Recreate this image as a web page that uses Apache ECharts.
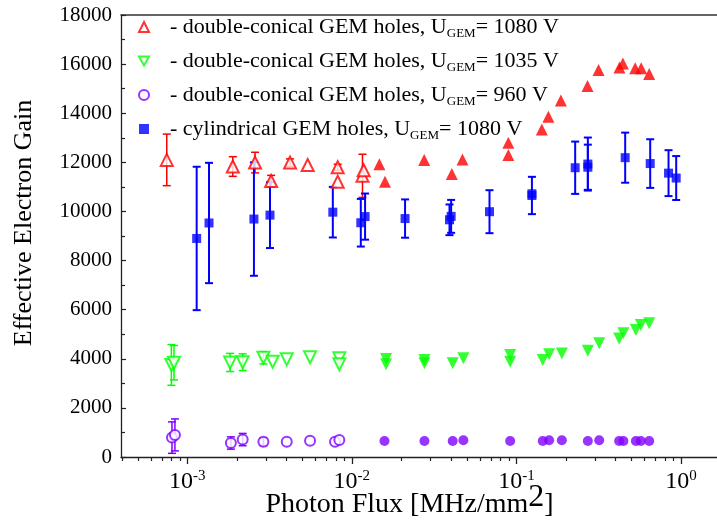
<!DOCTYPE html>
<html>
<head>
<meta charset="utf-8">
<script src="https://cdn.jsdelivr.net/npm/echarts@6/dist/echarts.min.js"></script>
<style>html,body{margin:0;padding:0;background:#fff}#c{width:717px;height:524px}</style>
</head>
<body>
<div id="c"></div>
<script>
// ---- data ----
const X_MIN = 3.954e-4, X_MAX = 1.726;
const majorTickValues = [0.001, 0.01, 0.1, 1];
const yTickInterval = 2000;

const names = [
  'double-conical GEM holes, U_GEM= 1080 V',
  'double-conical GEM holes, U_GEM= 1035 V',
  'double-conical GEM holes, U_GEM= 960 V',
  'cylindrical GEM holes, U_GEM= 1080 V'
];

const redX = [7.5e-4, 1.89e-3, 2.58e-3, 3.23e-3, 4.21e-3, 5.39e-3, 8.2e-3, 8.2e-3, 0.0116, 0.0118, 0.0147, 0.0159, 0.0275, 0.0405, 0.047, 0.0893, 0.0893, 0.1426, 0.1564, 0.1862, 0.2704, 0.3155, 0.4227, 0.4436, 0.527, 0.573, 0.641];
const redY = [12100, 11830, 11990, 11240, 11990, 11890, 11800, 11210, 11450, 11680, 11920, 11210, 12100, 11520, 12120, 12800, 12300, 13340, 13860, 14520, 15110, 15760, 15860, 16020, 15830, 15830, 15600];
const redErr = [1050, 400, 420, 230, 150, 0, 120, 0, 880, 0, 0, 0, 0, 0, 0, 0, 0, 0, 0, 0, 0, 0, 0, 0, 0, 0, 0];

const greenX = [8.0e-4, 8.3e-4, 1.82e-3, 2.17e-3, 2.90e-3, 3.30e-3, 4.02e-3, 5.57e-3, 8.39e-3, 8.39e-3, 0.01614, 0.01614, 0.0276, 0.0276, 0.0410, 0.0476, 0.0916, 0.0916, 0.1445, 0.158, 0.1888, 0.2716, 0.3184, 0.4207, 0.4467, 0.532, 0.570, 0.641];
const greenY = [3750, 3840, 3850, 3860, 4040, 3880, 3980, 4060, 4020, 3780, 3990, 3780, 3950, 3820, 3820, 4020, 4150, 3880, 3950, 4180, 4220, 4330, 4630, 4830, 5040, 5170, 5380, 5450];
const greenErr = [830, 700, 370, 340, 250, 0, 0, 0, 0, 0, 0, 0, 0, 0, 0, 0, 0, 0, 0, 0, 0, 0, 0, 0, 0, 0, 0, 0];

const purpleX = [8.07e-4, 8.41e-4, 1.84e-3, 2.17e-3, 2.90e-3, 4.02e-3, 5.57e-3, 7.9e-3, 8.39e-3, 0.01578, 0.0276, 0.0410, 0.0476, 0.0916, 0.1445, 0.158, 0.1888, 0.2716, 0.3184, 0.4207, 0.4467, 0.532, 0.570, 0.641];
const purpleY = [790, 900, 570, 710, 620, 620, 660, 620, 690, 650, 650, 650, 680, 650, 650, 680, 680, 650, 680, 650, 650, 650, 650, 650];
const purpleErr = [640, 650, 250, 250, 150, 0, 0, 0, 0, 0, 0, 0, 0, 0, 0, 0, 0, 0, 0, 0, 0, 0, 0, 0];

const blueX = [1.14e-3, 1.355e-3, 2.54e-3, 3.18e-3, 7.66e-3, 0.01133, 0.01203, 0.02105, 0.0392, 0.0401, 0.0686, 0.1242, 0.1242, 0.2275, 0.2716, 0.2716, 0.458, 0.650, 0.840, 0.935];
const blueY = [8900, 9530, 9690, 9850, 9970, 9540, 9790, 9710, 9660, 9800, 9990, 10720, 10650, 11780, 11930, 11800, 12190, 11950, 11560, 11360];
const blueErr = [2920, 2450, 2310, 1340, 1030, 970, 940, 780, 625, 670, 875, 0, 760, 1065, 1080, 920, 1020, 990, 935, 895];

// ---- helpers ----
const FONT = 'Liberation Serif';
const minorTickValues = [];
for (let e = -4; e <= 0; e++) for (let m = 2; m <= 9; m++) {
  const v = m * Math.pow(10, e);
  if (v > X_MIN && v < X_MAX) minorTickValues.push(v);
}
const pairs = (xs, ys) => xs.map((x, i) => [x, ys[i]]);
const triples = (xs, ys, es) => xs.map((x, i) => [x, ys[i], es[i]]);

function errRender(color, lw) {
  return function (params, api) {
    const x = api.value(0), y = api.value(1), e = api.value(2);
    if (!e) return null;
    const t = api.coord([x, y + e]), b = api.coord([x, y - e]);
    const hw = 4;
    const st = { stroke: color, lineWidth: lw };
    return { type: 'group', children: [
      { type: 'line', shape: { x1: t[0], y1: t[1], x2: b[0], y2: b[1] }, style: st },
      { type: 'line', shape: { x1: t[0] - hw, y1: t[1], x2: t[0] + hw, y2: t[1] }, style: st },
      { type: 'line', shape: { x1: b[0] - hw, y1: b[1], x2: b[0] + hw, y2: b[1] }, style: st }
    ]};
  };
}
function errSeries(xs, ys, es, color, lw) {
  return { type: 'custom', renderItem: errRender(color, lw), data: triples(xs, ys, es),
    encode: { x: 0, y: 1 }, z: 1, silent: true, clip: false };
}
const FILL_FROM = 0.012;
function markerData(xs, ys, filledSymbol) {
  return xs.map((x, i) => x >= FILL_FROM && filledSymbol ? { value: [x, ys[i]], symbol: filledSymbol } : [x, ys[i]]);
}

function legendLabel(name) {
  const m = name.match(/^(.*)U_GEM= (.*)$/);
  return '{t|- ' + m[1] + 'U}{s|GEM}{t|= ' + m[2] + '}';
}

const chart = echarts.init(document.getElementById('c'));
chart.setOption({
  animation: false,
  backgroundColor: '#fff',
  grid: { left: 121, top: 15, right: -3, bottom: 67, containLabel: false, outerBoundsMode: 'none' },
  legend: {
    orient: 'vertical', left: 138, top: 16, padding: 0, itemWidth: 10, itemHeight: 10, itemGap: 10,
    selectedMode: false,
    formatter: legendLabel,
    textStyle: {
      fontFamily: FONT, color: '#000', padding: [0, 0, 0, 16],
      rich: {
        t: { fontFamily: FONT, fontSize: 22, lineHeight: 26, color: '#000' },
        s: { fontFamily: FONT, fontSize: 13, lineHeight: 6, verticalAlign: 'bottom', color: '#000' }
      }
    },
    data: [
      { name: names[0], icon: 'triangle', itemStyle: { color: '#fff', borderColor: '#ff0000', borderWidth: 2 } },
      { name: names[1], icon: 'path://M0,0L10,0L5,9Z', itemStyle: { color: '#fff', borderColor: '#00ff00', borderWidth: 2 } },
      { name: names[2], icon: 'circle', itemStyle: { color: '#fff', borderColor: '#8000ff', borderWidth: 2 } },
      { name: names[3], icon: 'rect', itemStyle: { color: '#0000ff', borderWidth: 0 } }
    ]
  },
  xAxis: [
    {
      type: 'log', logBase: 10, min: X_MIN, max: X_MAX, position: 'bottom',
      name: '{n|Photon Flux [MHz/mm}{p|2}{n|]}', nameLocation: 'middle', nameGap: 33, nameMoveOverlap: false,
      nameTextStyle: { padding: [0, 22, 0, 0], rich: {
        n: { fontFamily: FONT, fontSize: 28, lineHeight: 30, color: '#000' },
        p: { fontFamily: FONT, fontSize: 32, lineHeight: 16, padding: [0, 0, 14, 0], color: '#000' }
      } },
      axisLine: { show: true, lineStyle: { color: '#222', width: 1.3 } },
      axisTick: { show: true, inside: false, length: 7, customValues: majorTickValues, lineStyle: { color: '#222', width: 1.3 } },
      axisLabel: { show: true, margin: 12, customValues: majorTickValues,
        formatter: v => '{b|10}{e|' + Math.round(Math.log10(v)) + '}',
        rich: {
          b: { fontFamily: FONT, fontSize: 24, lineHeight: 26, color: '#000' },
          e: { fontFamily: FONT, fontSize: 15, lineHeight: 10, verticalAlign: 'top', color: '#000' }
        } },
      splitLine: { show: false }
    },
    {
      type: 'log', logBase: 10, min: X_MIN, max: X_MAX, position: 'bottom',
      axisLine: { show: false },
      axisTick: { show: true, inside: false, length: 4, customValues: minorTickValues, lineStyle: { color: '#222', width: 1.2 } },
      axisLabel: { show: false }, splitLine: { show: false }
    },
    {
      type: 'value', min: 0, max: 1, position: 'top',
      axisLine: { show: true, lineStyle: { color: '#333', width: 1.5 } },
      axisTick: { show: false }, axisLabel: { show: false }, splitLine: { show: false }
    }
  ],
  yAxis: {
    type: 'value', min: 0, max: 18000, interval: yTickInterval,
    name: 'Effective Electron Gain', nameLocation: 'middle', nameGap: 84, nameMoveOverlap: false,
    nameTextStyle: { fontFamily: FONT, fontSize: 26, color: '#000', padding: [0, 0, 0, 26] },
    axisLine: { show: true, lineStyle: { color: '#222', width: 1.3 } },
    axisTick: { show: true, inside: true, length: 5, lineStyle: { color: '#222', width: 1.2 } },
    minorTick: { show: true, splitNumber: 2, length: 4, lineStyle: { color: '#222', width: 1.2 } },
    axisLabel: { fontFamily: FONT, fontSize: 21, color: '#000', margin: 9, formatter: v => String(v) },
    splitLine: { show: false }
  },
  series: [
    errSeries(redX, redY, redErr, '#ff0000', 1.5),
    errSeries(greenX, greenY, greenErr, '#00ff00', 1.5),
    errSeries(purpleX, purpleY, purpleErr, '#8000ff', 1.5),
    errSeries(blueX, blueY, blueErr, '#0000ff', 2),
    { name: names[0], type: 'scatter', symbol: 'emptyTriangle', symbolSize: 12,
      itemStyle: { color: '#ff0000', borderWidth: 2 }, data: markerData(redX, redY, 'triangle'), z: 3 },
    { name: names[1], type: 'scatter', symbol: 'emptyTriangle', symbolRotate: 180, symbolSize: 12,
      itemStyle: { color: '#00ff00', borderWidth: 2 }, data: markerData(greenX, greenY, 'triangle'), z: 3 },
    { name: names[2], type: 'scatter', symbol: 'emptyCircle', symbolSize: 10,
      itemStyle: { color: '#8000ff', borderWidth: 2 }, data: markerData(purpleX, purpleY, 'circle'), z: 3 },
    { name: names[3], type: 'scatter', symbol: 'rect', symbolSize: 9,
      itemStyle: { color: '#0000ff' }, data: pairs(blueX, blueY), z: 4 }
  ]
});
</script>
</body>
</html>
